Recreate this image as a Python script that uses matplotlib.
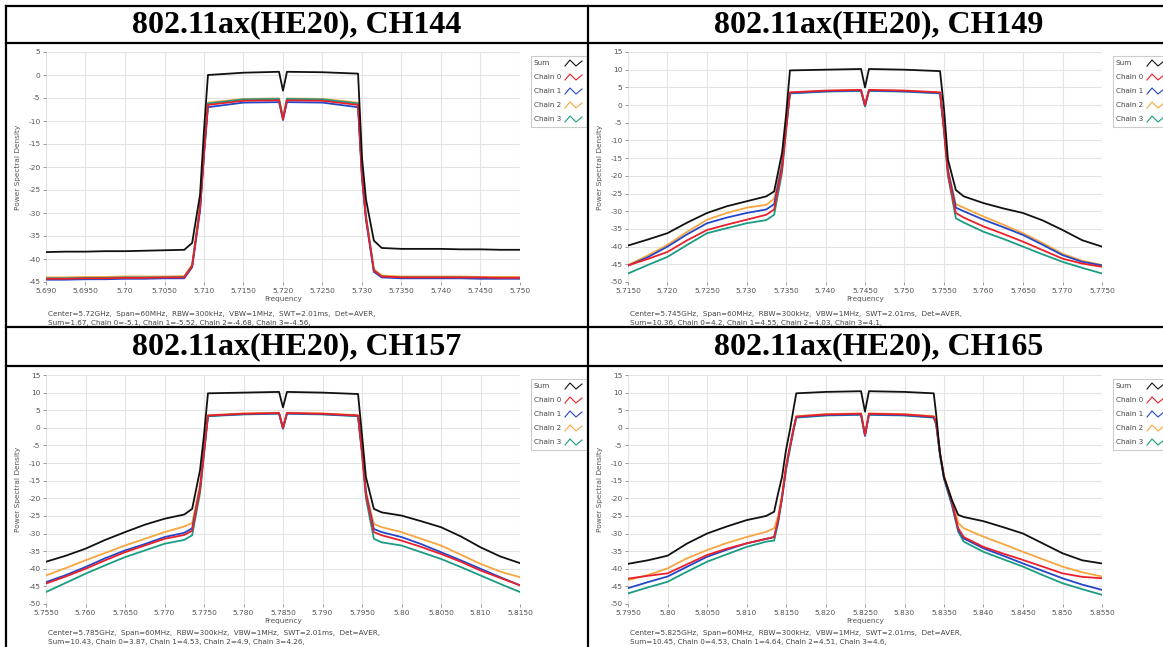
import matplotlib.pyplot as plt
from matplotlib.lines import Line2D
from matplotlib.patches import Rectangle
import numpy as np

W, H = 1163, 647

titles = ["802.11ax(HE20), CH144", "802.11ax(HE20), CH149",
          "802.11ax(HE20), CH157", "802.11ax(HE20), CH165"]
centers_ghz = [5.72, 5.745, 5.785, 5.825]
legend_names = ["Sum", "Chain 0", "Chain 1", "Chain 2", "Chain 3"]
trace_colors = ["#111111", "#e8212b", "#2446c8", "#f7a63f", "#1b9c83"]

xlabels_144 = ["5.690", "5.6950", "5.70", "5.7050", "5.710", "5.7150", "5.720",
               "5.7250", "5.730", "5.7350", "5.740", "5.7450", "5.750"]
xlabels_149 = ["5.7150", "5.720", "5.7250", "5.730", "5.7350", "5.740", "5.7450",
               "5.750", "5.7550", "5.760", "5.7650", "5.770", "5.7750"]
xlabels_157 = ["5.7550", "5.760", "5.7650", "5.770", "5.7750", "5.780", "5.7850",
               "5.790", "5.7950", "5.80", "5.8050", "5.810", "5.8150"]
xlabels_165 = ["5.7950", "5.80", "5.8050", "5.810", "5.8150", "5.820", "5.8250",
               "5.830", "5.8350", "5.840", "5.8450", "5.850", "5.8550"]

yticks_144 = [5, 0, -5, -10, -15, -20, -25, -30, -35, -40, -45]
yticks_hi = [15, 10, 5, 0, -5, -10, -15, -20, -25, -30, -35, -40, -45, -50]

notes_144 = ["Center=5.72GHz,  Span=60MHz,  RBW=300kHz,  VBW=1MHz,  SWT=2.01ms,  Det=AVER,",
             "Sum=1.67, Chain 0=-5.1, Chain 1=-5.52, Chain 2=-4.68, Chain 3=-4.56,"]
notes_149 = ["Center=5.745GHz,  Span=60MHz,  RBW=300kHz,  VBW=1MHz,  SWT=2.01ms,  Det=AVER,",
             "Sum=10.36, Chain 0=4.2, Chain 1=4.55, Chain 2=4.03, Chain 3=4.1,"]
notes_157 = ["Center=5.785GHz,  Span=60MHz,  RBW=300kHz,  VBW=1MHz,  SWT=2.01ms,  Det=AVER,",
             "Sum=10.43, Chain 0=3.87, Chain 1=4.53, Chain 2=4.9, Chain 3=4.26,"]
notes_165 = ["Center=5.825GHz,  Span=60MHz,  RBW=300kHz,  VBW=1MHz,  SWT=2.01ms,  Det=AVER,",
             "Sum=10.45, Chain 0=4.53, Chain 1=4.64, Chain 2=4.51, Chain 3=4.6,"]

# frequency offsets from centre (MHz) where the traces were read
offs = [-30, -27.5, -25, -22.5, -20, -17.5, -15, -12.5, -11.5, -10.5, -10, -9.5,
        -5, -0.5, 0, 0.5, 5,
        9.5, 10, 10.5, 11.5, 12.5, 15, 17.5, 20, 22.5, 25, 27.5, 30]
offs_165 = [-30, -27.5, -25, -22.5, -20, -17.5, -15, -12.5, -11.5, -11, -10.5, -10, -9.5, -9, -8.7,
            -5, -0.5, 0, 0.5, 5,
            8.7, 9, 9.5, 10, 11, 11.8, 12.5, 15, 17.5, 20, 22.5, 25, 27.5, 30]

# CH144
ch144_sum = [-38.5, -38.4, -38.4, -38.3, -38.3, -38.2, -38.1, -38.0, -36.5, -26, -12, 0.0,
             0.5, 0.7, -3.4, 0.7, 0.6,
             0.3, -18, -27, -36, -37.6, -37.8, -37.8, -37.8, -37.9, -37.9, -38.0, -38.0]
ch144_c0 = [-44.3, -44.3, -44.2, -44.2, -44.1, -44.1, -44.0, -44.0, -41.5, -29, -17, -6.5,
            -5.6, -5.5, -9.6, -5.5, -5.6,
            -6.5, -22, -31, -42.5, -43.8, -44.0, -44.0, -44.0, -44.0, -44.0, -44.1, -44.1]
ch144_c1 = [-44.5, -44.5, -44.4, -44.4, -44.3, -44.3, -44.2, -44.2, -41.8, -29.5, -17.5, -7.0,
            -6.0, -5.9, -9.8, -5.9, -6.0,
            -7.0, -22.5, -31.5, -42.8, -44.0, -44.2, -44.2, -44.2, -44.2, -44.3, -44.3, -44.3]
ch144_c2 = [-44.0, -44.0, -43.9, -43.9, -43.8, -43.8, -43.8, -43.7, -41.2, -28.5, -16.5, -6.0,
            -5.2, -5.1, -9.2, -5.1, -5.2,
            -6.0, -21.5, -30.5, -42.2, -43.6, -43.8, -43.8, -43.8, -43.8, -43.9, -43.9, -43.9]
ch144_c3 = [-44.2, -44.2, -44.1, -44.1, -44.0, -44.0, -44.0, -43.9, -41.4, -28.8, -16.8, -6.2,
            -5.3, -5.2, -9.4, -5.2, -5.3,
            -6.2, -21.8, -30.8, -42.4, -43.8, -44.0, -44.0, -44.0, -44.0, -44.1, -44.1, -44.1]

# CH149
ch149_sum = [-39.7, -38.0, -36.2, -33.2, -30.5, -28.6, -27.2, -25.8, -24.4, -13.5, -3.0, 9.8,
             10.0, 10.2, 5.0, 10.2, 10.0,
             9.6, -1.0, -15.4, -24.0, -25.8, -27.7, -29.2, -30.5, -32.6, -35.3, -38.2, -40.0]
ch149_c0 = [-45.3, -43.5, -41.5, -38.2, -35.3, -33.8, -32.4, -31.0, -29.5, -18.0, -7.0, 3.6,
            4.1, 4.3, 0.0, 4.3, 4.1,
            3.6, -7.0, -19.5, -30.5, -31.8, -34.3, -36.4, -38.6, -41.0, -43.4, -44.8, -45.7]
ch149_c1 = [-45.4, -43.0, -40.0, -36.5, -33.4, -31.8, -30.5, -29.5, -28.0, -17.0, -6.5, 3.4,
            3.9, 4.1, -0.2, 4.1, 3.9,
            3.4, -6.5, -18.5, -29.0, -30.0, -32.4, -34.5, -36.7, -39.5, -42.4, -44.3, -45.3]
ch149_c2 = [-45.2, -42.5, -39.5, -35.8, -32.4, -30.5, -29.0, -28.2, -26.5, -16.0, -6.0, 3.5,
            4.0, 4.2, 0.0, 4.2, 4.0,
            3.5, -6.0, -18.0, -28.0, -29.0, -31.5, -33.8, -36.2, -39.0, -42.0, -44.0, -45.2]
ch149_c3 = [-47.6, -45.2, -42.9, -39.5, -36.2, -34.8, -33.4, -32.5, -31.0, -19.0, -7.5, 3.3,
            3.8, 4.0, -0.4, 4.0, 3.8,
            3.3, -7.5, -20.0, -32.0, -33.2, -35.8, -37.8, -40.0, -42.2, -44.3, -46.0, -47.6]

# CH157
ch157_sum = [-38.0, -36.3, -34.3, -31.8, -29.6, -27.5, -25.8, -24.6, -23.0, -12.0, -2.0, 9.8,
             10.0, 10.2, 5.8, 10.2, 10.0,
             9.6, -2.0, -14.0, -23.0, -24.0, -24.9, -26.5, -28.2, -30.8, -33.9, -36.5, -38.4]
ch157_c0 = [-44.2, -42.2, -40.0, -37.6, -35.3, -33.4, -31.5, -30.4, -29.2, -17.5, -7.0, 3.5,
            4.0, 4.2, 0.0, 4.2, 4.0,
            3.5, -7.0, -19.0, -29.6, -30.5, -32.0, -33.8, -35.8, -38.0, -40.5, -42.6, -44.7]
ch157_c1 = [-43.8, -41.8, -39.5, -37.0, -34.8, -33.0, -31.0, -29.8, -28.5, -17.0, -6.5, 3.4,
            3.9, 4.1, -0.1, 4.1, 3.9,
            3.4, -6.5, -18.5, -28.7, -29.6, -31.0, -33.0, -35.3, -37.6, -40.0, -42.4, -44.7]
ch157_c2 = [-41.9, -39.8, -37.6, -35.5, -33.4, -31.5, -29.6, -28.0, -27.0, -16.0, -6.0, 3.6,
            4.1, 4.3, 0.1, 4.3, 4.1,
            3.6, -6.0, -18.0, -27.3, -28.2, -29.6, -31.5, -33.4, -36.0, -38.6, -40.8, -42.4]
ch157_c3 = [-46.6, -44.0, -41.4, -39.0, -36.7, -34.8, -32.9, -31.8, -30.5, -18.5, -7.5, 3.3,
            3.8, 4.0, -0.3, 4.0, 3.8,
            3.3, -7.5, -20.0, -31.5, -32.5, -33.4, -35.3, -37.2, -39.5, -41.9, -44.3, -46.6]

# CH165
ch165_sum = [-38.6, -37.6, -36.3, -32.8, -30.0, -28.0, -26.2, -25.0, -23.8, -18.6, -13.9, -6.3, -0.6, 6.0, 9.8,
             10.2, 10.4, 4.6, 10.4, 10.2,
             9.8, 4.0, -7.5, -14.0, -20.5, -24.7, -25.3, -26.5, -28.2, -30.0, -32.8, -35.6, -37.6, -38.5]
ch165_c0 = [-42.8, -42.0, -41.3, -38.7, -36.1, -34.3, -32.8, -31.5, -31.0, -26.2, -19.5, -11.0, -5.3, 0.3, 3.2,
            3.8, 4.0, -2.0, 4.0, 3.8,
            3.2, 1.5, -7.2, -13.9, -21.0, -28.5, -31.0, -33.8, -35.7, -37.5, -39.4, -41.3, -42.3, -42.7]
ch165_c1 = [-45.5, -43.8, -42.2, -39.4, -36.6, -34.6, -32.8, -31.5, -31.0, -26.5, -19.8, -11.5, -5.5, 0.0, 3.0,
            3.6, 3.8, -2.2, 3.8, 3.6,
            3.0, 1.2, -7.5, -14.2, -21.5, -29.0, -31.4, -34.2, -36.3, -38.5, -40.6, -42.7, -44.5, -46.0]
ch165_c2 = [-43.2, -41.8, -39.9, -37.0, -34.7, -32.7, -31.0, -29.5, -28.5, -25.0, -19.0, -11.0, -5.3, 0.3, 3.3,
            3.9, 4.1, -1.8, 4.1, 3.9,
            3.3, 1.5, -7.0, -13.5, -20.5, -27.0, -28.5, -30.9, -33.0, -35.2, -37.3, -39.4, -41.0, -42.2]
ch165_c3 = [-47.0, -45.3, -43.7, -40.8, -38.0, -35.9, -33.8, -32.3, -32.0, -27.0, -20.0, -12.0, -6.0, -0.2, 2.9,
            3.5, 3.7, -2.3, 3.7, 3.5,
            2.9, 1.0, -8.0, -14.5, -22.0, -29.5, -32.3, -35.2, -37.3, -39.4, -41.8, -44.1, -45.8, -47.4]

panels = [
    (offs, [ch144_sum, ch144_c0, ch144_c1, ch144_c2, ch144_c3], xlabels_144, yticks_144, notes_144),
    (offs, [ch149_sum, ch149_c0, ch149_c1, ch149_c2, ch149_c3], xlabels_149, yticks_hi, notes_149),
    (offs, [ch157_sum, ch157_c0, ch157_c1, ch157_c2, ch157_c3], xlabels_157, yticks_hi, notes_157),
    (offs_165, [ch165_sum, ch165_c0, ch165_c1, ch165_c2, ch165_c3], xlabels_165, yticks_hi, notes_165),
]


def fx(x):
    return x / W


def fy(y):
    return 1 - y / H


fig = plt.figure(figsize=(W / 100, H / 100), dpi=100)

# table grid
lines = [((6, 1163), (6, 6)), ((6, 1163), (43, 43)), ((6, 1163), (327, 327)),
         ((6, 1163), (366, 366)), ((6, 6), (6, 647)), ((588, 588), (6, 647))]
for xs, ys in lines:
    fig.add_artist(Line2D([fx(xs[0]), fx(xs[1])], [fy(ys[0]), fy(ys[1])],
                          transform=fig.transFigure, color="black", lw=1.6, zorder=10))

col_dx = [0, 582, 0, 582]
row_dy = [0, 0, 323, 323]
draw_order = [3, 4, 2, 1, 0]  # orange, teal, blue, red, then sum on top

for i, (off, traces, xlabels, yticks, notes) in enumerate(panels):
    dx, dy = col_dx[i], row_dy[i]
    title_y = 24.5 if dy == 0 else 346.5
    fig.text(fx(297 + dx), fy(title_y), titles[i], ha="center", va="center",
             fontsize=23, fontweight="bold", family="Liberation Serif")

    left, right = 46 + dx, 520 + dx
    top, bottom = (52, 282) if dy == 0 else (375, 604)
    ax = fig.add_axes([fx(left), fy(bottom), fx(right - left), (bottom - top) / H])

    freq = centers_ghz[i] + np.array(off) / 1000.0
    for k in draw_order:
        ax.plot(freq, traces[k], color=trace_colors[k], lw=1.3)

    xt = centers_ghz[i] + np.arange(-30, 31, 5) / 1000.0
    ax.set_xticks(xt)
    ax.set_xticklabels(xlabels)
    ax.set_yticks(yticks)
    ax.set_yticklabels([str(v) for v in yticks])
    ax.set_xlim(xt[0], xt[-1])
    ax.set_ylim(yticks[-1], yticks[0])
    ax.grid(True, color="#e3e3e3", lw=0.8)
    ax.set_axisbelow(True)
    for s in ax.spines.values():
        s.set_visible(False)
    ax.tick_params(direction="out", length=2.5, width=0.6, color="#888888",
                   labelsize=5.4, labelcolor="#555555", pad=1.5)
    ax.set_xlabel("Frequency", fontsize=5.3, color="#555555", labelpad=2)
    ax.set_ylabel("Power Spectral Density", fontsize=5.3, color="#555555", labelpad=5)

    note_y = (314, 323) if dy == 0 else (633, 642)
    for line, ny in zip(notes, note_y):
        fig.text(fx(48 + dx), fy(ny), line, ha="left", va="center", fontsize=5.2, color="#444444")

    # legend box drawn by hand (clipped by the cell border like the source)
    lx0 = 531 + dx
    ly0 = 56 + dy
    box_w = min(56, (587 if dx == 0 else 1163) - lx0)
    fig.add_artist(Rectangle((fx(lx0), fy(ly0 + 71)), box_w / W, 71 / H,
                             transform=fig.transFigure, facecolor="white",
                             edgecolor="#cccccc", lw=0.8, zorder=5))
    for k, name in enumerate(legend_names):
        ry = ly0 + 7 + k * 14
        fig.text(fx(lx0 + 3), fy(ry), name, ha="left", va="center", fontsize=5.2,
                 color="#444444", zorder=6)
        gx = lx0 + 34
        gxs = [gx, gx + 5, gx + 11, gx + 17]
        gys = [ry + 3, ry - 3, ry + 3, ry - 2]
        fig.add_artist(Line2D([fx(v) for v in gxs], [fy(v) for v in gys],
                              transform=fig.transFigure, color=trace_colors[k], lw=0.8, zorder=6))

fig.savefig("out.png", dpi=100)
